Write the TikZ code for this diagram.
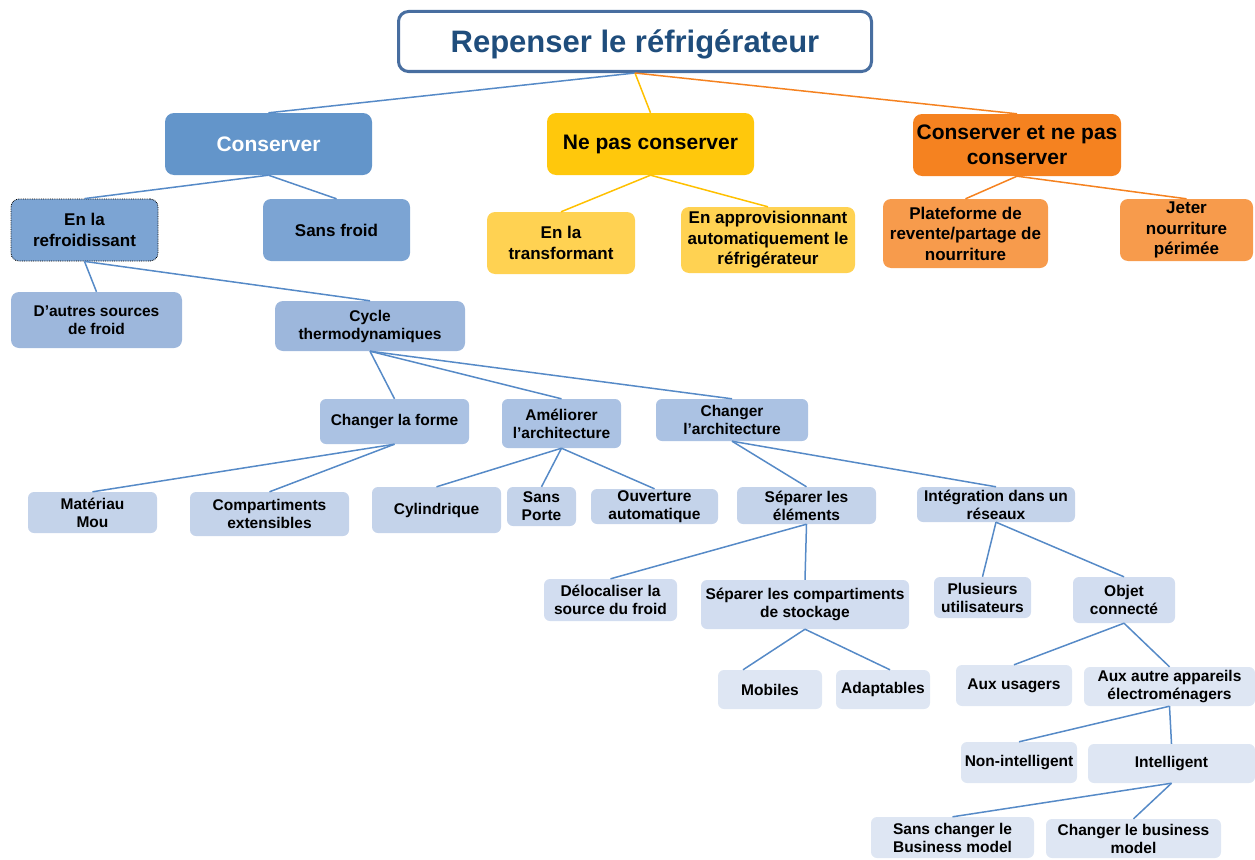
\documentclass[tikz,border=0pt]{standalone}
\usepackage{fontspec}
\setmainfont{Liberation Sans}
\usetikzlibrary{positioning}
\definecolor{titleblue}{RGB}{31,77,124}
\definecolor{titleline}{RGB}{72,110,160}
\definecolor{blueA}{RGB}{99,149,202}
\definecolor{blueB}{RGB}{124,164,211}
\definecolor{blueC}{RGB}{157,183,220}
\definecolor{blueD}{RGB}{171,194,227}
\definecolor{blueE}{RGB}{196,211,234}
\definecolor{blueF}{RGB}{210,221,240}
\definecolor{blueG}{RGB}{222,230,243}
\definecolor{yelA}{RGB}{255,200,12}
\definecolor{yelB}{RGB}{255,210,82}
\definecolor{oraA}{RGB}{245,130,32}
\definecolor{oraB}{RGB}{247,155,76}
\definecolor{linkblue}{RGB}{86,138,199}
\definecolor{linkyel}{RGB}{255,192,0}
\definecolor{linkora}{RGB}{245,130,32}
\tikzset{
  box/.style={rounded corners=6pt,align=center,inner sep=1pt,text=black,
    font=\bfseries\fontsize{15.5}{18}\selectfont},
  big/.style={box,rounded corners=9pt,font=\bfseries\fontsize{21}{25}\selectfont},
  mid/.style={box,rounded corners=8pt,font=\bfseries\fontsize{17}{20.5}\selectfont},
  lk/.style={linkblue,line width=1.5pt},
  lky/.style={linkyel,line width=1.5pt},
  lko/.style={linkora,line width=1.5pt}}
\begin{document}
\begin{tikzpicture}[x=1pt,y=-1pt]
\useasboundingbox (0,0) rectangle (1255,859);
% title
\node[draw=titleline,line width=3pt,fill=white,rounded corners=10pt,minimum width=473pt,minimum height=60pt,
  text=titleblue,font=\bfseries\fontsize{31}{36}\selectfont] (title) at (635,41.5) {\raisebox{-3pt}[\height][\depth]{Repenser le réfrigérateur}};
% first level
\node[big,fill=blueA,text=white,minimum width=207pt,minimum height=62pt] (cons) at (268.5,144) {Conserver};
\node[big,fill=yelA,minimum width=207pt,minimum height=62pt] (nepas) at (650.5,144) {Ne pas conserver};
\node[big,fill=oraA,minimum width=208pt,minimum height=62pt] (both) at (1017,145) {Conserver et ne pas\\conserver};
% second level
\node[mid,fill=blueB,draw=black,densely dotted,line width=0.8pt,minimum width=147pt,minimum height=62pt] (refr) at (84.5,230) {En la\\refroidissant};
\node[mid,fill=blueB,minimum width=147pt,minimum height=62pt] (sansfroid) at (336.5,230) {Sans froid};
\node[mid,fill=yelB,minimum width=148pt,minimum height=62pt] (transf) at (561,243) {En la\\transformant};
\node[mid,fill=yelB,minimum width=174pt,minimum height=66pt] (appro) at (768,240) {En approvisionnant\\automatiquement le\\réfrigérateur};
\node[mid,fill=oraB,minimum width=165pt,minimum height=69pt] (plat) at (965.5,233.5) {Plateforme de\\revente/partage de\\nourriture};
\node[mid,fill=oraB,minimum width=133pt,minimum height=62pt] (jeter) at (1186.5,230) {Jeter\\nourriture\\périmée};
% cooling branch
\node[box,fill=blueC,rounded corners=8pt,minimum width=171pt,minimum height=56pt] (autres) at (96.5,320) {D’autres sources\\de froid};
\node[box,fill=blueC,rounded corners=8pt,minimum width=190pt,minimum height=50pt] (cycle) at (370,326) {Cycle\\thermodynamiques};
\node[box,fill=blueD,minimum width=149pt,minimum height=45pt] (forme) at (394.5,421.5) {Changer la forme};
\node[box,fill=blueD,minimum width=119pt,minimum height=49pt] (amel) at (561.5,423.5) {Améliorer\\l’architecture};
\node[box,fill=blueD,minimum width=152pt,minimum height=42pt] (chgarch) at (732,420) {Changer\\l’architecture};
\node[box,fill=blueE,minimum width=129pt,minimum height=41pt] (mat) at (92.5,512.5) {Matériau\\Mou};
\node[box,fill=blueE,minimum width=159pt,minimum height=44pt] (compext) at (269.5,514) {Compartiments\\extensibles};
\node[box,fill=blueE,minimum width=129pt,minimum height=46pt] (cyl) at (436.5,510) {Cylindrique};
\node[box,fill=blueE,minimum width=69pt,minimum height=39pt] (sansporte) at (541.5,506.5) {Sans\\Porte};
\node[box,fill=blueE,minimum width=127pt,minimum height=35pt] (ouvert) at (654.5,506.5) {Ouverture\\automatique};
\node[box,fill=blueE,minimum width=139pt,minimum height=37pt] (separ) at (806.5,505.5) {Séparer les\\éléments};
\node[box,fill=blueE,minimum width=158pt,minimum height=35pt] (integr) at (996,504.5) {Intégration dans un\\réseaux};
\node[box,fill=blueF,minimum width=133pt,minimum height=42pt] (deloc) at (610.5,600) {Délocaliser la\\source du froid};
\node[box,fill=blueF,minimum width=208pt,minimum height=49pt] (sepcomp) at (805,604.5) {Séparer les compartiments\\de stockage};
\node[box,fill=blueF,minimum width=97pt,minimum height=41pt] (plus) at (982.5,597.5) {Plusieurs\\utilisateurs};
\node[box,fill=blueF,minimum width=102pt,minimum height=46pt] (objet) at (1124,600) {Objet\\connecté};
\node[box,fill=blueG,minimum width=104pt,minimum height=39pt] (mobiles) at (770,689.5) {Mobiles};
\node[box,fill=blueG,minimum width=94pt,minimum height=39pt] (adapt) at (883,689.5) {Adaptables};
\node[box,fill=blueG,minimum width=116pt,minimum height=41pt] (usagers) at (1014,685.5) {Aux usagers};
\node[box,fill=blueG,minimum width=171pt,minimum height=39pt] (autreapp) at (1169.5,686.5) {Aux autre appareils\\électroménagers};
\node[box,fill=blueG,minimum width=116pt,minimum height=41pt] (nonint) at (1019,762.5) {Non-intelligent};
\node[box,fill=blueG,minimum width=167pt,minimum height=39pt] (intell) at (1171.5,763.5) {Intelligent};
\node[box,fill=blueG,minimum width=163pt,minimum height=41pt] (sanschg) at (952.5,837.5) {Sans changer le\\Business model};
\node[box,fill=blueG,minimum width=175pt,minimum height=39pt] (chgbm) at (1133.5,838.5) {Changer le business\\model};
% links
\draw[lk] (title.south) -- (cons.north);
\draw[lky] (title.south) -- (nepas.north);
\draw[lko] (title.south) -- (both.north);
\draw[lk] (cons.south) -- (refr.north);
\draw[lk] (cons.south) -- (sansfroid.north);
\draw[lky] (nepas.south) -- (transf.north);
\draw[lky] (nepas.south) -- (appro.north);
\draw[lko] (both.south) -- (plat.north);
\draw[lko] (both.south) -- (jeter.north);
\draw[lk] (refr.south) -- (autres.north);
\draw[lk] (refr.south) -- (cycle.north);
\foreach \c in {forme,amel,chgarch} \draw[lk] (cycle.south) -- (\c.north);
\foreach \c in {mat,compext} \draw[lk] (forme.south) -- (\c.north);
\foreach \c in {cyl,sansporte,ouvert} \draw[lk] (amel.south) -- (\c.north);
\foreach \c in {separ,integr} \draw[lk] (chgarch.south) -- (\c.north);
\foreach \c in {deloc,sepcomp} \draw[lk] (separ.south) -- (\c.north);
\foreach \c in {plus,objet} \draw[lk] (integr.south) -- (\c.north);
\draw[lk] (sepcomp.south) -- ([xshift=-27pt]mobiles.north);
\draw[lk] (sepcomp.south) -- ([xshift=7pt]adapt.north);
\foreach \c in {usagers,autreapp} \draw[lk] (objet.south) -- (\c.north);
\foreach \c in {nonint,intell} \draw[lk] (autreapp.south) -- (\c.north);
\foreach \c in {sanschg,chgbm} \draw[lk] (intell.south) -- (\c.north);
\end{tikzpicture}
\end{document}
